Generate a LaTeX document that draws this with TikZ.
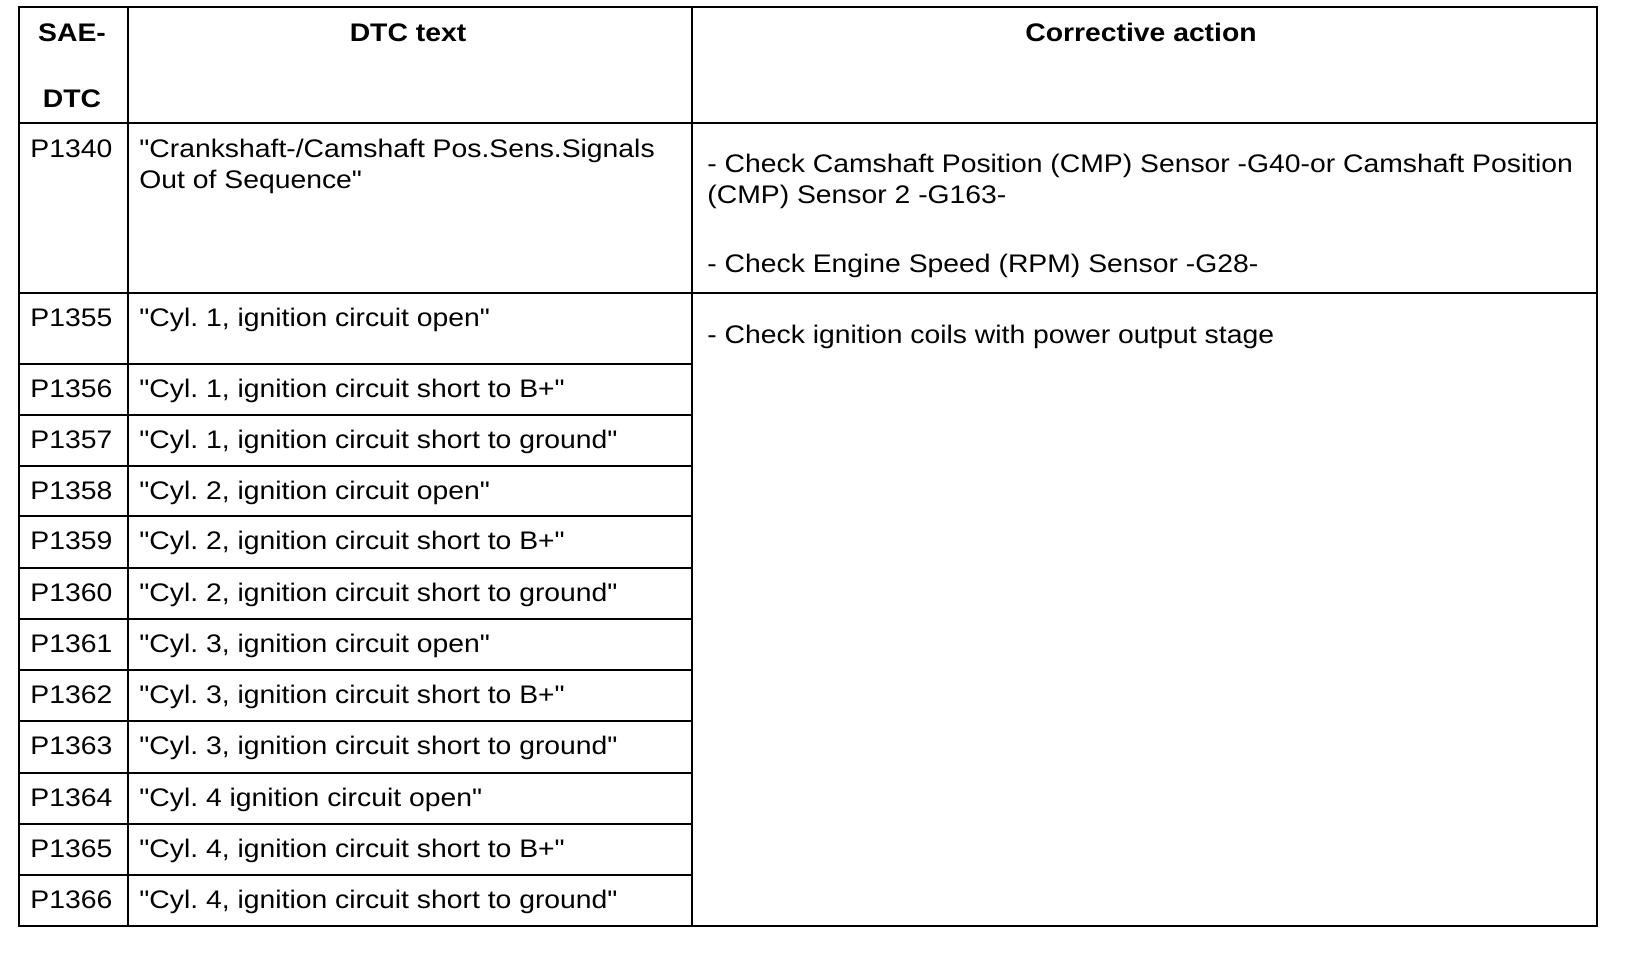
\documentclass[tikz,border=0pt]{standalone}
\usepackage{fontspec}
\newfontfamily\tabfont[FakeStretch=1.115]{Liberation Sans}
\begin{document}
\frenchspacing
\begin{tikzpicture}[x=0.5pt,y=-0.5pt,
  tbl/.style={line width=1.25pt},
  cell/.style={inner sep=0pt, anchor=base west, font=\tabfont\fontsize{12.7pt}{15.5pt}\selectfont},
  head/.style={inner sep=0pt, anchor=base, font=\tabfont\fontsize{12.7pt}{15.5pt}\selectfont\bfseries}]
\useasboundingbox (0,0) rectangle (1648,964);
% grid
\draw[tbl] (19,7) rectangle (1597,926);
\draw[tbl] (128,7) -- (128,926);
\draw[tbl] (692,7) -- (692,926);
\draw[tbl] (19,123) -- (1597,123);
\draw[tbl] (19,293) -- (1597,293);
\foreach \yy in {364,415,466,516,568,619,670,721,773,824,875}
  \draw[tbl] (19,\yy) -- (692,\yy);
% header
\node[head] (h1a) at (72,41) {SAE-};
\node[head] (h1b) at (72,107) {DTC};
\node[head] (h2) at (408,41) {DTC text};
\node[head] (h3) at (1141,41) {Corrective action};
% P1340
\node[cell] (c1340) at (30,157) {P1340};
\node[cell] (t1340a) at (139,157) {"Crankshaft-/Camshaft Pos.Sens.Signals};
\node[cell] (t1340b) at (139,188) {Out of Sequence"};
\node[cell] (a1a) at (707,172) {- Check Camshaft Position (CMP) Sensor -G40-or Camshaft Position};
\node[cell] (a1b) at (707,203) {(CMP) Sensor 2 -G163-};
\node[cell] (a2) at (707,272) {- Check Engine Speed (RPM) Sensor -G28-};
\node[cell] (a3) at (707,343) {- Check ignition coils with power output stage};
% rows
\node[cell] (c1355) at (30,326) {P1355};
\node[cell] (t1355) at (139,326) {"Cyl. 1, ignition circuit open"};
\node[cell] (c1356) at (30,397) {P1356};
\node[cell] (t1356) at (139,397) {"Cyl. 1, ignition circuit short to B+"};
\node[cell] (c1357) at (30,448) {P1357};
\node[cell] (t1357) at (139,448) {"Cyl. 1, ignition circuit short to ground"};
\node[cell] (c1358) at (30,499) {P1358};
\node[cell] (t1358) at (139,499) {"Cyl. 2, ignition circuit open"};
\node[cell] (c1359) at (30,549) {P1359};
\node[cell] (t1359) at (139,549) {"Cyl. 2, ignition circuit short to B+"};
\node[cell] (c1360) at (30,601) {P1360};
\node[cell] (t1360) at (139,601) {"Cyl. 2, ignition circuit short to ground"};
\node[cell] (c1361) at (30,652) {P1361};
\node[cell] (t1361) at (139,652) {"Cyl. 3, ignition circuit open"};
\node[cell] (c1362) at (30,703) {P1362};
\node[cell] (t1362) at (139,703) {"Cyl. 3, ignition circuit short to B+"};
\node[cell] (c1363) at (30,754) {P1363};
\node[cell] (t1363) at (139,754) {"Cyl. 3, ignition circuit short to ground"};
\node[cell] (c1364) at (30,806) {P1364};
\node[cell] (t1364) at (139,806) {"Cyl. 4 ignition circuit open"};
\node[cell] (c1365) at (30,857) {P1365};
\node[cell] (t1365) at (139,857) {"Cyl. 4, ignition circuit short to B+"};
\node[cell] (c1366) at (30,908) {P1366};
\node[cell] (t1366) at (139,908) {"Cyl. 4, ignition circuit short to ground"};
\end{tikzpicture}
\end{document}
